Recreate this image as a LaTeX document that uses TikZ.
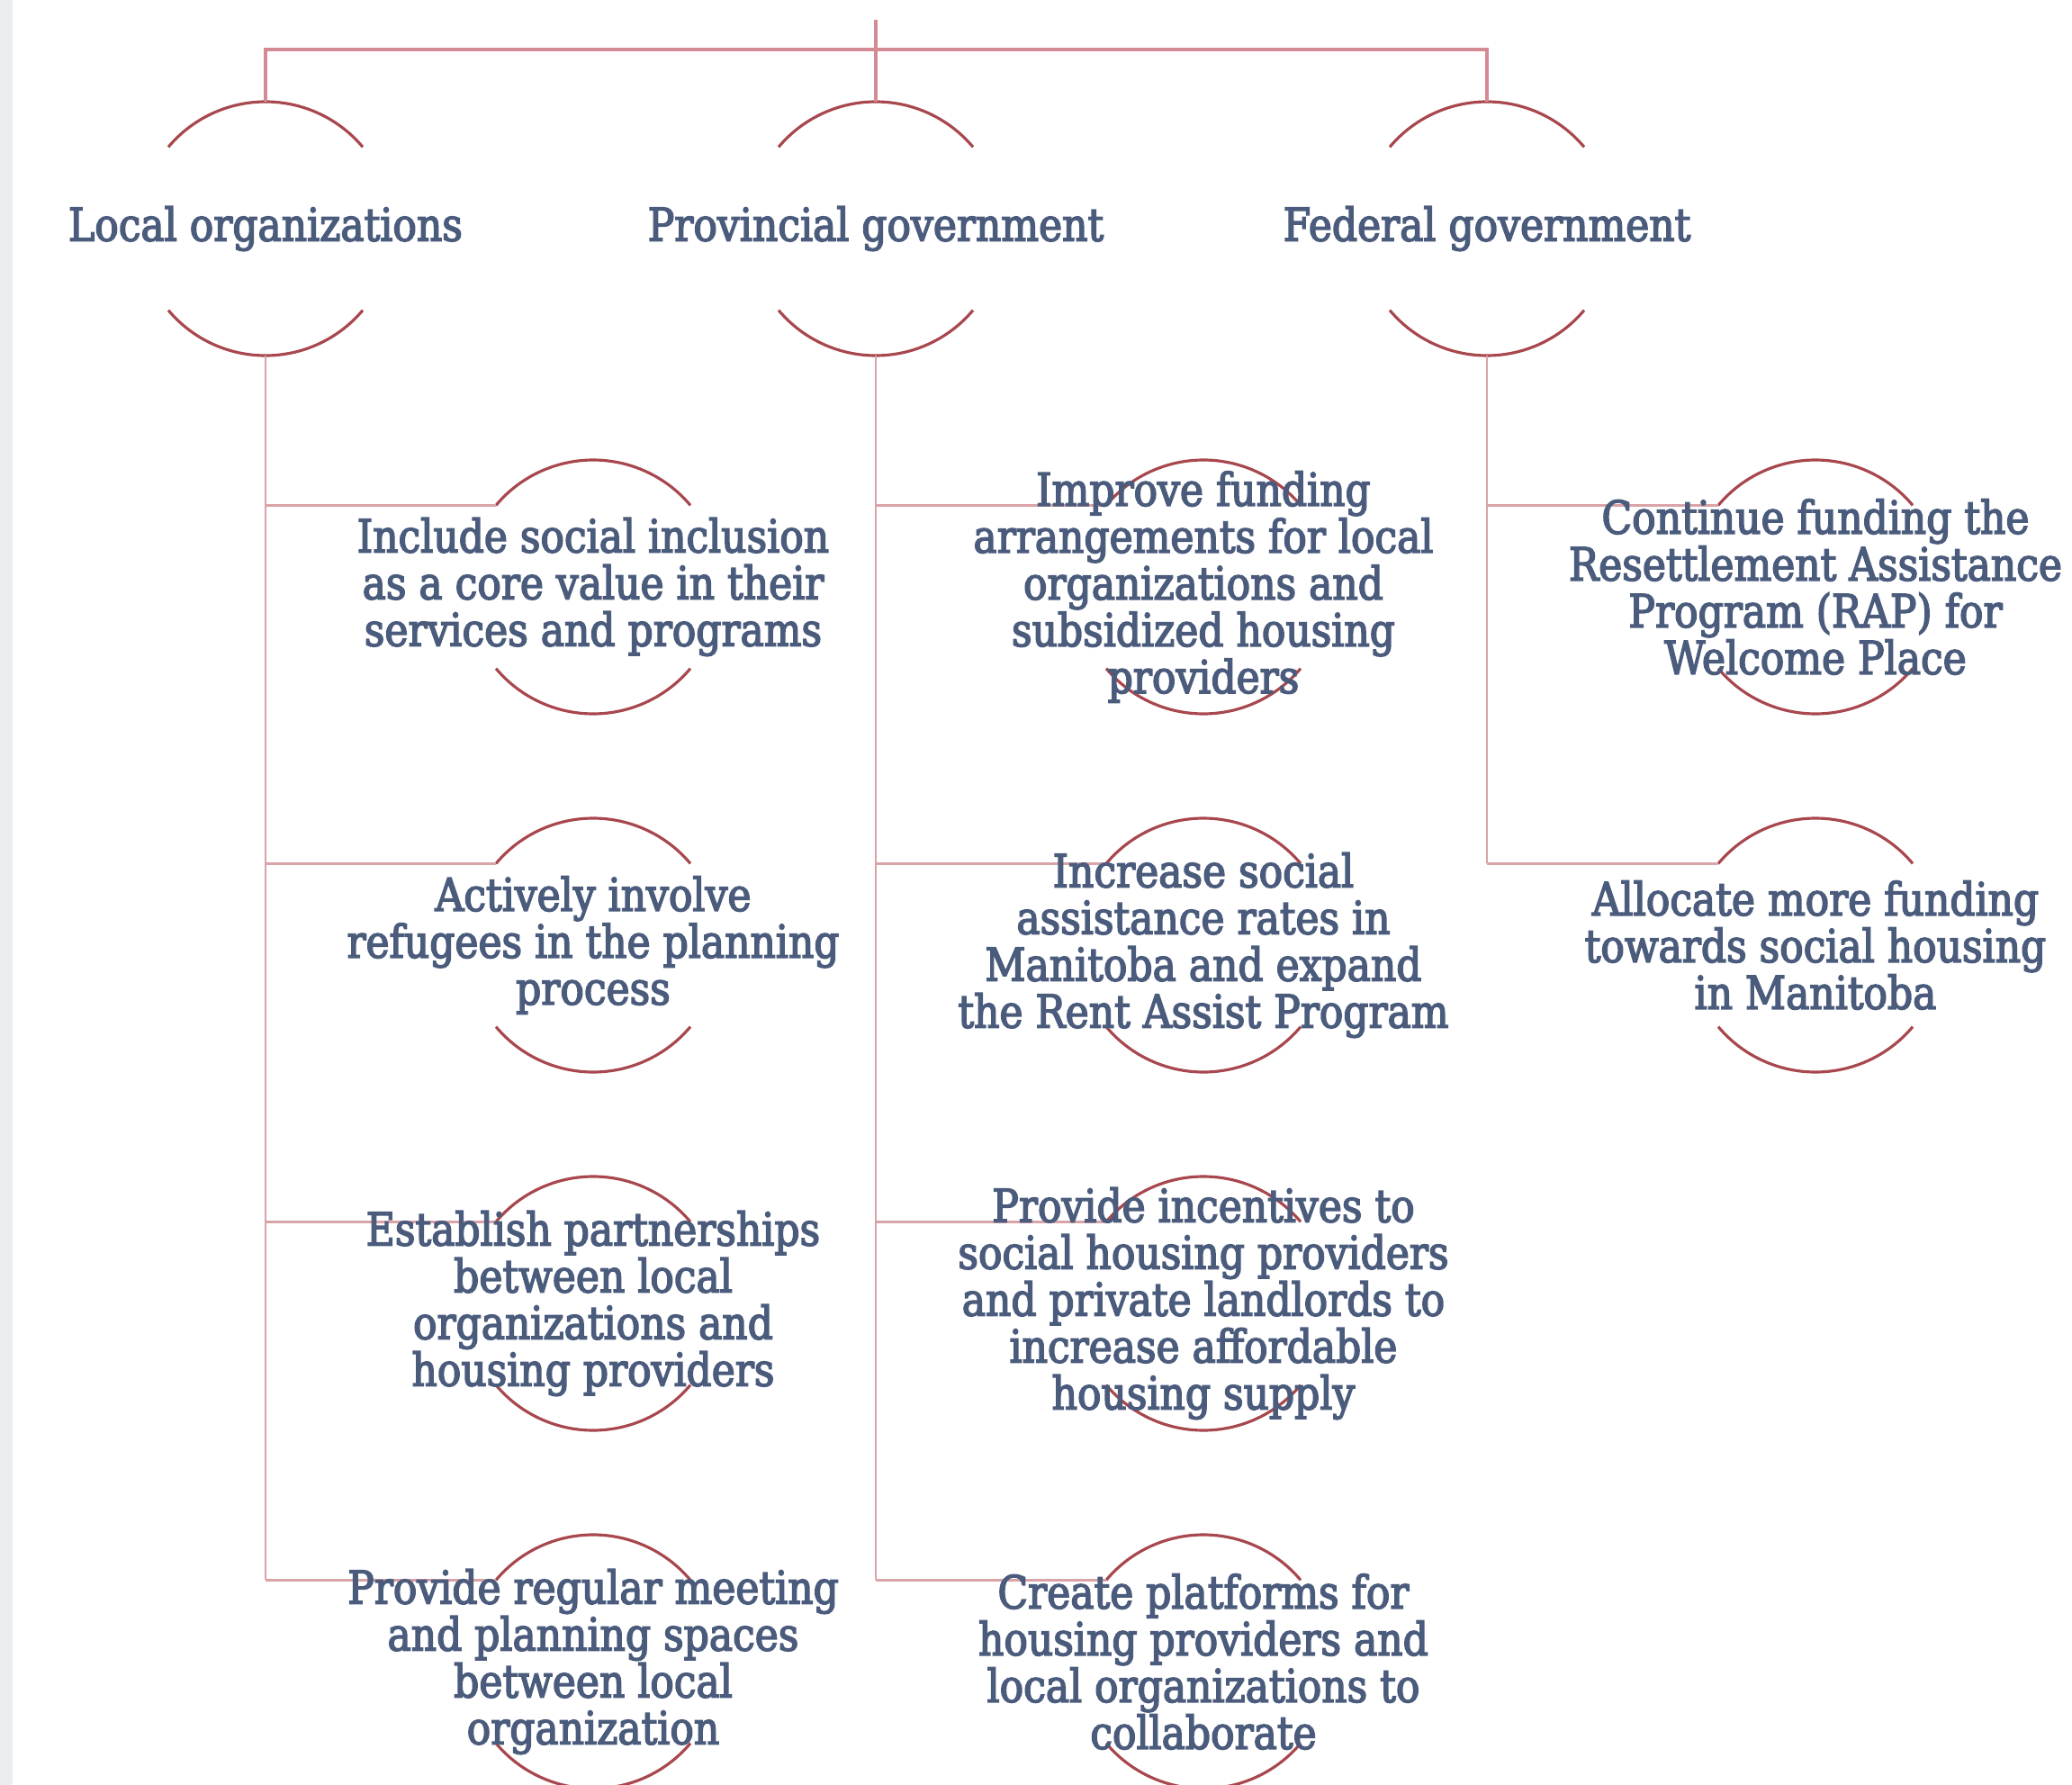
\documentclass[tikz,border=0pt]{standalone}
\usepackage{fontspec}
\setmainfont{DejaVu Serif}[FakeStretch=0.87,FakeBold=3]
\definecolor{txtblue}{HTML}{4A5B7C}
\definecolor{arcred}{HTML}{A8474D}
\definecolor{linepink}{HTML}{D9A3A8}
\definecolor{barpink}{HTML}{D48A92}
\definecolor{stripgray}{HTML}{EBEDF1}
\begin{document}
\begin{tikzpicture}[ring/.style = {circle, minimum size=2.82cm, inner sep=0pt, outer sep=0pt},
        lbl/.style = {align=center, inner sep=0pt, text=txtblue, font=\fontsize{14.4}{14.8}\selectfont},
        arcline/.style = {draw=arcred, line width=0.9pt},
        branch/.style = {draw=linepink, line width=0.65pt},
        topbar/.style = {draw=barpink, line width=1pt}]
        \useasboundingbox (0,0) rectangle (23.02,-19.83);
        \fill[stripgray] (0,0) rectangle (0.14,-19.83);
        % rings
        \node[ring] (lo) at (2.95,-2.54) {};
        \node[ring] (pg) at (9.73,-2.54) {};
        \node[ring] (fg) at (16.52,-2.54) {};
        \node[ring] (lo1) at (6.59,-6.52) {};
        \node[ring] (lo2) at (6.59,-10.50) {};
        \node[ring] (lo3) at (6.59,-14.48) {};
        \node[ring] (lo4) at (6.59,-18.46) {};
        \node[ring] (pg1) at (13.37,-6.52) {};
        \node[ring] (pg2) at (13.37,-10.50) {};
        \node[ring] (pg3) at (13.37,-14.48) {};
        \node[ring] (pg4) at (13.37,-18.46) {};
        \node[ring] (fg1) at (20.17,-6.52) {};
        \node[ring] (fg2) at (20.17,-10.50) {};
        \coordinate (bar) at (0,-0.55);
        \coordinate (top) at (9.73,-0.22);
        \foreach \n in {lo,pg,fg,lo1,lo2,lo3,lo4,pg1,pg2,pg3,pg4,fg1,fg2} {
            \draw[arcline] (\n.140) arc[start angle=140, end angle=40, radius=1.41cm];
            \draw[arcline] (\n.220) arc[start angle=220, end angle=320, radius=1.41cm];
        }
        \draw[topbar] (lo.north) -- (lo.north |- bar) -- (fg.north |- bar) -- (fg.north);
        \draw[topbar] (pg.north) -- (top);
        % columns
        \draw[branch] (lo.south) -- (lo.south |- lo4.140);
        \draw[branch] (pg.south) -- (pg.south |- pg4.140);
        \draw[branch] (fg.south) -- (fg.south |- fg2.140);
        \foreach \i in {1,...,4} {
            \draw[branch] (lo.south |- lo\i.140) -- (lo\i.140);
            \draw[branch] (pg.south |- pg\i.140) -- (pg\i.140);
        }
        \foreach \i in {1,2}
            \draw[branch] (fg.south |- fg\i.140) -- (fg\i.140);
        % texts
        \node[lbl] (tlo) at (lo) {Local organizations};
        \node[lbl] (tpg) at (pg) {Provincial government};
        \node[lbl] (tfg) at (fg) {Federal government};
        \node[lbl] (tlo1) at (lo1) {Include social inclusion\\as a core value in their\\services and programs};
        \node[lbl] (tlo2) at (lo2) {Actively involve\\refugees in the planning\\process};
        \node[lbl] (tlo3) at (lo3) {Establish partnerships\\between local\\organizations and\\housing providers};
        \node[lbl] (tlo4) at (lo4) {Provide regular meeting\\and planning spaces\\between local\\organization};
        \node[lbl] (tpg1) at (pg1) {Improve funding\\arrangements for local\\organizations and\\subsidized housing\\providers};
        \node[lbl] (tpg2) at (pg2) {Increase social\\assistance rates in\\Manitoba and expand\\the Rent Assist Program};
        \node[lbl] (tpg3) at (pg3) {Provide incentives to\\social housing providers\\and private landlords to\\increase affordable\\housing supply};
        \node[lbl] (tpg4) at (pg4) {Create platforms for\\housing providers and\\local organizations to\\collaborate};
        \node[lbl] (tfg1) at (fg1) {Continue funding the\\Resettlement Assistance\\Program (RAP) for\\Welcome Place};
        \node[lbl] (tfg2) at (fg2) {Allocate more funding\\towards social housing\\in Manitoba};
\end{tikzpicture}
\end{document}
